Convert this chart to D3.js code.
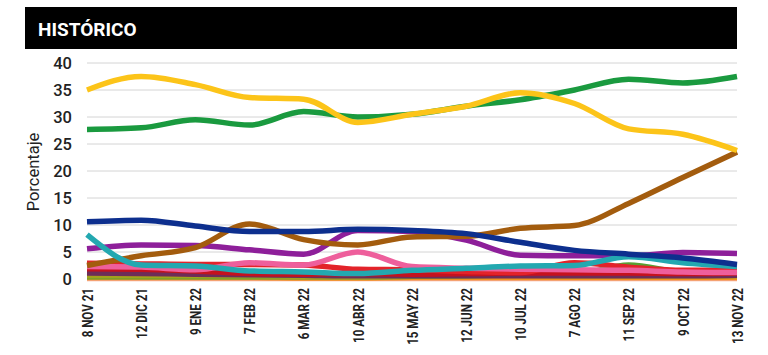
<!DOCTYPE html>
<html><head><meta charset="utf-8">
<script src="https://cdn.jsdelivr.net/npm/d3@7"></script>
<style>
html,body{margin:0;padding:0;background:#fff;}
svg{display:block;}
</style></head>
<body>
<svg id="c" width="768" height="355"></svg>
<script>
const dates = ["8 NOV 21","12 DIC 21","9 ENE 22","7 FEB 22","6 MAR 22","10 ABR 22","15 MAY 22","12 JUN 22","10 JUL 22","7 AGO 22","11 SEP 22","9 OCT 22","13 NOV 22"];
const yTicks = [0,5,10,15,20,25,30,35,40];

const salmon   = [0.1,0.1,0.1,0.1,0.1,0.1,0.1,0.1,0.1,0.1,0.1,0.1,0.1];
const orange   = [0.3,0.3,0.3,0.3,0.2,0.2,0.3,0.3,0.3,0.3,0.3,0.3,0.3];
const lime     = [0.4,0.4,0.4,0.4,0.4,0.4,0.5,0.6,0.8,0.9,2.6,1.2,0.8];
const olive    = [0.6,0.6,0.6,0.6,0.5,0.5,0.6,0.7,0.7,0.6,0.6,0.6,0.6];
const maroon   = [1.1,1.0,0.9,0.8,0.7,0.6,0.6,0.6,0.6,0.6,0.6,0.6,0.7];
const darkred  = [1.9,1.8,1.5,1.0,0.9,1.0,0.9,1.0,1.1,1.1,1.1,1.0,1.1];
const red      = [2.9,2.8,2.7,2.7,2.6,1.8,1.7,1.4,1.2,3.0,2.2,1.6,1.7];
const pink     = [2.3,2.2,1.7,3.0,2.6,5.0,2.3,2.0,1.8,1.7,1.6,1.3,1.2];
const purple   = [5.6,6.3,6.2,5.4,4.6,9.0,8.8,7.2,4.4,4.3,4.3,4.9,4.7];
const brown    = [2.5,4.3,5.8,10.2,7.3,6.3,7.8,7.9,9.4,9.9,14.0,18.8,23.5];
const teal     = [8.2,2.6,2.4,1.5,1.3,1.0,1.6,2.0,2.4,2.5,4.1,3.0,2.3];
const blue     = [10.6,10.9,9.8,8.8,8.8,9.2,9.0,8.4,6.8,5.3,4.6,3.9,2.7];
const green    = [27.7,28.0,29.5,28.5,31.0,30.0,30.5,32.0,33.2,35.0,37.0,36.3,37.5];
const yellow   = [35.0,37.5,36.0,33.6,33.3,29.0,30.5,32.0,34.5,32.5,27.8,26.8,23.8];

const series = [
  {v:salmon,c:"#f6a98f"},
  {v:orange,c:"#f0901e"},
  {v:lime,c:"#58a033"},
  {v:olive,c:"#a3a21c"},
  {v:maroon,c:"#6d2d58"},
  {v:darkred,c:"#c5121e"},
  {v:red,c:"#e3232a"},
  {v:pink,c:"#ee5f9c"},
  {v:purple,c:"#8e1f9a"},
  {v:brown,c:"#a35c0e"},
  {v:teal,c:"#23a8b0"},
  {v:blue,c:"#0d2f8e"},
  {v:green,c:"#1a9a3f"},
  {v:yellow,c:"#fcc419"}
];

const svg = d3.select("#c");
const L = 87, R = 737, T = 63, B = 279;
const x = d3.scalePoint().domain(dates).range([L, R]);
const y = d3.scaleLinear().domain([0, 40]).range([B, T]);

// header
svg.append("rect").attr("x",25).attr("y",7).attr("width",712).attr("height",42).attr("fill","#000");
svg.append("text").attr("x",38).attr("y",36).attr("fill","#fff")
  .attr("font-family","Roboto, 'Liberation Sans', sans-serif").attr("font-weight","bold")
  .attr("font-size",19).text("HISTÓRICO");

// grid
svg.append("g").selectAll("line").data(yTicks).join("line")
  .attr("x1",L).attr("x2",R).attr("y1",d=>y(d)).attr("y2",d=>y(d))
  .attr("stroke","#d4d4d4").attr("stroke-width",1);

// y axis labels
const yAxis = d3.axisLeft(y).tickValues(yTicks).tickSize(0).tickPadding(0);
const gy = svg.append("g").attr("transform",`translate(${72},0)`).call(yAxis);
gy.select(".domain").remove();
gy.selectAll("text").attr("font-family","Roboto, sans-serif").attr("font-size",16.5)
  .attr("font-weight",500).attr("fill","#222").attr("dy","0.36em");

svg.append("text").attr("transform",`translate(39,172) rotate(-90)`)
  .attr("text-anchor","middle").attr("font-family","Roboto, sans-serif")
  .attr("font-size",16.5).attr("fill","#222").text("Porcentaje");

// x axis
const xAxis = d3.axisBottom(x).tickSize(0).tickPadding(0);
const gx = svg.append("g").attr("transform",`translate(0,${B})`).call(xAxis);
gx.select(".domain").remove();
gx.selectAll("text")
  .attr("font-family","Roboto, sans-serif")
  .attr("font-weight","bold").attr("font-size",14.5).attr("fill","#222")
  .attr("text-anchor","end").attr("y",0).attr("dy","0.36em")
  .attr("transform","translate(0,9) rotate(-90) scale(0.8,1)");

// lines
const line = d3.line().x((d,i)=>x(dates[i])).y(d=>y(d)).curve(d3.curveMonotoneX);
svg.append("g").selectAll("path").data(series).join("path")
  .attr("d",d=>line(d.v)).attr("fill","none").attr("stroke",d=>d.c)
  .attr("stroke-width",5.5).attr("stroke-linejoin","round");
</script>
</body></html>
